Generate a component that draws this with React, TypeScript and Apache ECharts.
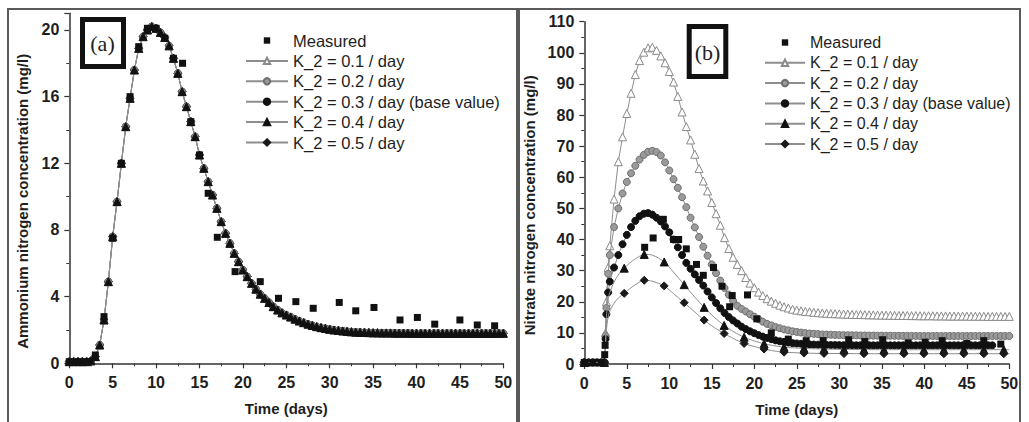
import { useEffect, useRef } from "react";
import * as echarts from "echarts";

const FONT = "Liberation Sans";

// ---------- Panel (a): ammonium nitrogen ----------
const T_L = [0,0.5,1,1.5,2,2.5,3,3.5,4,4.5,5,5.5,6,6.5,7,7.5,8,8.5,9,9.5,10,10.5,11,11.5,12,12.5,13,13.5,14,14.5,15,15.5,16,16.5,17,17.5,18,18.5,19,19.5,20,20.5,21,21.5,22,22.5,23,23.5,24,24.5,25,25.5,26,26.5,27,27.5,28,28.5,29,29.5,30,30.5,31,31.5,32,32.5,33,33.5,34,34.5,35,35.5,36,36.5,37,37.5,38,38.5,39,39.5,40,40.5,41,41.5,42,42.5,43,43.5,44,44.5,45,45.5,46,46.5,47,47.5,48,48.5,49,49.5,50];

const AMMONIUM_SIM = [0.1,0.1,0.1,0.1,0.1,0.15,0.4,1.1,2.6,4.9,7.6,9.7,12.0,14.2,15.9,17.6,18.9,19.6,20.0,20.2,20.1,19.85,19.55,19.05,18.3,17.4,16.3,15.4,14.5,13.6,12.5,11.7,10.9,10.1,9.3,8.5,7.8,7.2,6.6,6.1,5.6,5.2,4.8,4.45,4.15,3.9,3.65,3.4,3.2,3.03,2.9,2.78,2.65,2.54,2.44,2.35,2.27,2.2,2.14,2.09,2.04,2.0,1.97,1.94,1.91,1.89,1.87,1.86,1.85,1.84,1.83,1.83,1.82,1.82,1.82,1.81,1.81,1.81,1.81,1.8,1.8,1.8,1.8,1.8,1.8,1.8,1.8,1.8,1.8,1.8,1.8,1.8,1.8,1.8,1.8,1.8,1.8,1.8,1.8,1.8,1.8];

const MEAS_A = [[0,0.1],[1,0.1],[2,0.1],[3,0.5],[4,2.8],[5,7.5],[6,12],[7,16],[8,19],[9,20.1],[10,20.1],[11,19.5],[12,18.3],[13.05,18],[14,14.5],[15,12.5],[16,10.2],[17.05,7.56],[19.1,5.5],[22,4.9],[24.1,3.9],[26.1,3.7],[28.1,3.3],[31.1,3.65],[33,3.15],[35.1,3.35],[38.1,2.6],[40.1,2.75],[42.1,2.35],[45,2.6],[47,2.3],[49,2.25]];

// ---------- Panel (b): nitrate nitrogen ----------
const T_R = [0,0.5,1,1.5,2,2.4,2.5,2.6,2.8,3,3.5,4,4.5,5,5.5,6,6.5,7,7.5,8,8.5,9,9.5,10,10.5,11,11.5,12,12.5,13,13.5,14,14.5,15,15.5,16,16.5,17,17.5,18,18.5,19,19.5,20,20.5,21,21.5,22,22.5,23,23.5,24,24.5,25,25.5,26,26.5,27,27.5,28,28.5,29,29.5,30,30.5,31,31.5,32,32.5,33,33.5,34,34.5,35,35.5,36,36.5,37,37.5,38,38.5,39,39.5,40,40.5,41,41.5,42,42.5,43,43.5,44,44.5,45,45.5,46,46.5,47,47.5,48,48.5,49,49.5,50];

const K01_N = [0.5,0.5,0.5,0.5,0.5,0.5,10,20,31,38,53,65,73,80.5,87,93,97.5,100.2,101.6,101.8,100.8,99,96.8,94,90.6,86,81,76.3,72,67.4,62.8,58.8,55.6,51.9,48.3,44.6,40.6,37.1,34.3,32,30,27.8,26,24.5,23.1,22,21,20.2,19.5,18.9,18.4,18,17.6,17.3,17.1,16.9,16.8,16.6,16.5,16.4,16.3,16.2,16.15,16.1,16.05,16,15.95,15.9,15.9,15.85,15.8,15.8,15.75,15.7,15.7,15.65,15.65,15.6,15.6,15.6,15.55,15.55,15.5,15.5,15.5,15.5,15.45,15.45,15.45,15.4,15.4,15.4,15.4,15.4,15.35,15.35,15.35,15.35,15.3,15.3,15.3,15.3,15.3,15.3];

const K02_N = [0.5,0.5,0.5,0.5,0.5,0.5,9,18,29,35,44,50,54.8,58.5,61.3,63.7,65.7,67.2,68.2,68.5,68.1,67,64.8,62.2,59.4,56.6,53.6,50.4,47,43.9,40.8,37.7,34.8,32,29.2,26.8,24.4,22.3,20.3,18.7,17.7,16.9,16,15.2,14.4,13.6,12.9,12.4,11.9,11.5,11.1,10.8,10.5,10.3,10.1,9.95,9.8,9.7,9.6,9.5,9.45,9.4,9.35,9.3,9.27,9.25,9.22,9.2,9.18,9.16,9.14,9.12,9.1,9.1,9.08,9.07,9.06,9.05,9.04,9.03,9.02,9.01,9,9,9,9,9,9,9,9,9,9,9,9,9,9,9,9,9,9,9,9,9,9];

const K03_N = [0.5,0.5,0.5,0.5,0.5,0.5,8,16,23,26.5,31,35,38.5,41.5,44,46,47.5,48.3,48.5,48,47,45.8,44.2,42.3,40,37.5,35,32.5,30.6,28.8,27,25.2,23.3,21.4,19.6,17.9,16.4,15.1,14,13,12,11.2,10.5,9.9,9.3,8.8,8.4,8,7.6,7.3,7.1,6.9,6.7,6.6,6.5,6.4,6.3,6.25,6.2,6.15,6.12,6.1,6.08,6.06,6.05,6.04,6.03,6.02,6.02,6.01,6.01,6,6,6,6,6,6,6,6,6,6,6,6,6,6,6,6,6,6,6,6,6,6,6,6,6,6,6,6,6];

const K04_N = [[0,0.5],[0.5,0.5],[1,0.5],[1.5,0.5],[2,0.5],[2.35,0.5],[2.5,8],[2.6,15],[2.8,20.5],[3,23],[3.5,26.3],[4,28.6],[4.7,30.8],[5.5,32.8],[6.3,34.3],[7.05,35.2],[8,35],[9.4,32.8],[10.5,29.5],[11.75,25.5],[13,21.5],[14.1,18.2],[15.3,15],[16.45,12.4],[17.6,10.3],[18.8,8.6],[20,7.4],[21.15,6.5],[22.3,5.9],[23.5,5.4],[25.85,5],[28.2,4.8],[30.55,4.7],[32.9,4.65],[35.25,4.6],[37.6,4.6],[39.95,4.6],[42.3,4.6],[44.65,4.6],[47,4.6],[49.35,4.6],[50,4.6]];

const K05_N = [[0,0.5],[0.5,0.5],[1,0.5],[1.5,0.5],[2,0.5],[2.35,0.5],[2.5,6],[2.6,11],[2.8,15],[3,17],[3.5,19.5],[4,21.2],[4.7,22.7],[5.5,24.5],[6.3,26],[7.05,26.9],[8,26.6],[9.4,25.1],[10.5,22.6],[11.75,19.7],[13,16.7],[14.1,14.1],[15.3,11.7],[16.45,9.8],[17.6,8.1],[18.8,6.6],[20,5.6],[21.15,4.8],[22.3,4.2],[23.5,3.8],[25.85,3.5],[28.2,3.4],[30.55,3.35],[32.9,3.3],[35.25,3.3],[37.6,3.3],[39.95,3.3],[42.3,3.3],[44.65,3.3],[47,3.3],[49.35,3.3],[50,3.3]];

// sampling times at which the K_2 = 0.4 / 0.5 curves carry a marker
const MARK_T = [0,2.35,4.7,7.05,9.4,11.75,14.1,16.45,18.8,21.15,23.5,25.85,28.2,30.55,32.9,35.25,37.6,39.95,42.3,44.65,47,49.35];

const MEAS_N = [[0,0.5],[1,0.5],[2,0.5],[2.4,3],[2.45,6],[7.1,37.5],[8.1,40.5],[9.3,46.5],[10.5,40],[11.1,40],[12,37],[13.2,32],[14,28.5],[15.2,31],[16.2,25],[17.1,18.4],[17.4,22],[19.2,22.2],[20.3,14.5],[22,10],[24,8],[26.1,7.5],[28.1,7.5],[31.1,7.8],[33,7.2],[35.1,7.8],[38.1,6.8],[40.1,7],[42.1,7.5],[45,6.6],[47,7.5],[49,6.4]];

const NAMES = ["Measured", "K_2 = 0.1 / day", "K_2 = 0.2 / day", "K_2 = 0.3 / day (base value)", "K_2 = 0.4 / day", "K_2 = 0.5 / day"];

const X_TICKS = { min: 0, max: 50, interval: 5 };

const LINE_GREY = "#8e8e8e";
const AXIS_COL = "#333";

type Sty = { symbol: string; size: number; fill: string; stroke: string };
const STY: Sty[] = [
  { symbol: "rect", size: 7, fill: "#111", stroke: "#111" },
  { symbol: "triangle", size: 8, fill: "#ffffff", stroke: "#8a8a8a" },
  { symbol: "circle", size: 7, fill: "#9a9a9a", stroke: "#6e6e6e" },
  { symbol: "circle", size: 7, fill: "#111", stroke: "#111" },
  { symbol: "triangle", size: 8, fill: "#111", stroke: "#111" },
  { symbol: "diamond", size: 8, fill: "#1a1a1a", stroke: "#1a1a1a" },
];

function lineSeries(idx: number, data: any[], axis: number, z: number) {
  const s = STY[idx];
  return {
    type: "line",
    name: NAMES[idx],
    data,
    xAxisIndex: axis,
    yAxisIndex: axis,
    symbol: s.symbol,
    symbolSize: s.size,
    showAllSymbol: true,
    smooth: false,
    lineStyle: { color: LINE_GREY, width: 1 },
    itemStyle: { color: s.fill, borderColor: s.stroke, borderWidth: 1 },
    emphasis: { disabled: true },
    z,
  };
}

// measured values: markers only (invisible connecting line)
function measSeries(data: number[][], axis: number) {
  const s = STY[0];
  return {
    type: "line",
    name: NAMES[0],
    data,
    xAxisIndex: axis,
    yAxisIndex: axis,
    symbol: s.symbol,
    symbolSize: s.size,
    showAllSymbol: true,
    lineStyle: { width: 0, opacity: 0 },
    itemStyle: { color: s.fill, borderColor: s.stroke, borderWidth: 0 },
    emphasis: { disabled: true },
    z: 10,
  };
}

const zip = (t: number[], v: number[]) => t.map((x, i) => [x, v[i]]);
const sparse = (pts: number[][]) =>
  pts.map(([t, v]) =>
    MARK_T.some((m) => Math.abs(m - t) < 1e-6) ? [t, v] : { value: [t, v], symbol: "none" }
  );

function axisStyle() {
  return {
    axisLine: { show: true, onZero: false, lineStyle: { color: AXIS_COL, width: 1.5 } },
    axisTick: { show: true, inside: false, length: 5, lineStyle: { color: AXIS_COL, width: 1.2 } },
    minorTick: { show: true, splitNumber: 2, length: 3, lineStyle: { color: AXIS_COL, width: 1 } },
    splitLine: { show: false },
    minorSplitLine: { show: false },
  };
}

const labelStyle = { color: "#1e1e1e", fontSize: 16, fontWeight: "bold", fontFamily: FONT };
const nameStyle = { color: "#1e1e1e", fontSize: 15, fontWeight: "bold", fontFamily: FONT };

export default function App() {
  const ref = useRef<HTMLDivElement>(null);

  useEffect(() => {
    document.body.style.margin = "0";
    if (!ref.current) return;
    const chart = echarts.init(ref.current, undefined, { renderer: "svg" });

    const legendData = NAMES.map((n, i) =>
      i === 0 ? { name: n, lineStyle: { opacity: 0, width: 0 } } : { name: n }
    );
    const legendCommon = {
      orient: "vertical",
      itemHeight: 8,
      data: legendData,
      selectedMode: false,
    };

    const option: any = {
      animation: false,
      backgroundColor: "#ffffff",
      grid: [
        { left: 69.3, top: 13.3, width: 434, height: 350 },
        { left: 584.3, top: 21.7, width: 425, height: 344 },
      ],
      xAxis: [0, 1].map((g) => ({
        type: "value",
        gridIndex: g,
        ...X_TICKS,
        ...axisStyle(),
        axisLabel: { ...labelStyle, margin: 11 },
        name: "Time (days)",
        nameLocation: "middle",
        nameGap: 38,
        nameTextStyle: nameStyle,
      })),
      yAxis: [
        {
          type: "value",
          gridIndex: 0,
          min: 0,
          max: 21,
          interval: 4,
          ...axisStyle(),
          axisLabel: { ...labelStyle, margin: 10, showMaxLabel: false },
          name: "Ammonium nitrogen concentration (mg/l)",
          nameLocation: "middle",
          nameGap: 39,
          nameTextStyle: { ...nameStyle, padding: [0, 26, 0, 0] },
        },
        {
          type: "value",
          gridIndex: 1,
          min: 0,
          max: 110,
          interval: 10,
          ...axisStyle(),
          axisLabel: { ...labelStyle, margin: 10 },
          name: "Nitrate nitrogen concentration (mg/l)",
          nameLocation: "middle",
          nameGap: 47,
          nameTextStyle: { ...nameStyle, padding: [0, 25, 0, 0] },
        },
      ],
      legend: [
        {
          ...legendCommon, left: 240, top: 27, itemWidth: 42, itemGap: 3.4,
          textStyle: { fontSize: 16.5, color: "#1e1e1e", fontFamily: FONT, lineHeight: 16 },
        },
        {
          ...legendCommon, left: 759, top: 29.5, itemWidth: 40, itemGap: 4.3,
          textStyle: { fontSize: 16, color: "#1e1e1e", fontFamily: FONT, lineHeight: 16 },
        },
      ],
      series: [
        lineSeries(5, zip(T_L, AMMONIUM_SIM), 0, 2),
        lineSeries(3, zip(T_L, AMMONIUM_SIM), 0, 3),
        lineSeries(2, zip(T_L, AMMONIUM_SIM), 0, 4),
        lineSeries(1, zip(T_L, AMMONIUM_SIM), 0, 5),
        lineSeries(4, zip(T_L, AMMONIUM_SIM), 0, 6),
        measSeries(MEAS_A, 0),
        lineSeries(1, zip(T_R, K01_N), 1, 2),
        lineSeries(2, zip(T_R, K02_N), 1, 3),
        lineSeries(3, zip(T_R, K03_N), 1, 4),
        { ...lineSeries(4, sparse(K04_N), 1, 5), smooth: 0.25 },
        { ...lineSeries(5, sparse(K05_N), 1, 6), smooth: 0.25 },
        measSeries(MEAS_N, 1),
      ],
      graphic: [
        { type: "rect", shape: { x: 8, y: 9, width: 509, height: 440 }, style: { fill: "none", stroke: "#5a5a5a", lineWidth: 2 }, z: 100 },
        { type: "rect", shape: { x: 519, y: 9, width: 501, height: 440 }, style: { fill: "none", stroke: "#5a5a5a", lineWidth: 2 }, z: 100 },
        { type: "rect", shape: { x: 82.5, y: 19.5, width: 41, height: 47 }, style: { fill: "#fff", stroke: "#111", lineWidth: 5 }, z: 100 },
        { type: "text", x: 102.5, y: 43, style: { text: "(a)", font: '22px "Liberation Serif"', fill: "#222", align: "center", verticalAlign: "middle" }, z: 101 },
        { type: "rect", shape: { x: 689.2, y: 26.5, width: 36.6, height: 50 }, style: { fill: "#fff", stroke: "#111", lineWidth: 5 }, z: 100 },
        { type: "text", x: 707.5, y: 52, style: { text: "(b)", font: '22px "Liberation Serif"', fill: "#222", align: "center", verticalAlign: "middle" }, z: 101 },
      ],
    };

    chart.setOption(option);
    return () => chart.dispose();
  }, []);

  return <div ref={ref} style={{ width: 1029, height: 422 }} />;
}
